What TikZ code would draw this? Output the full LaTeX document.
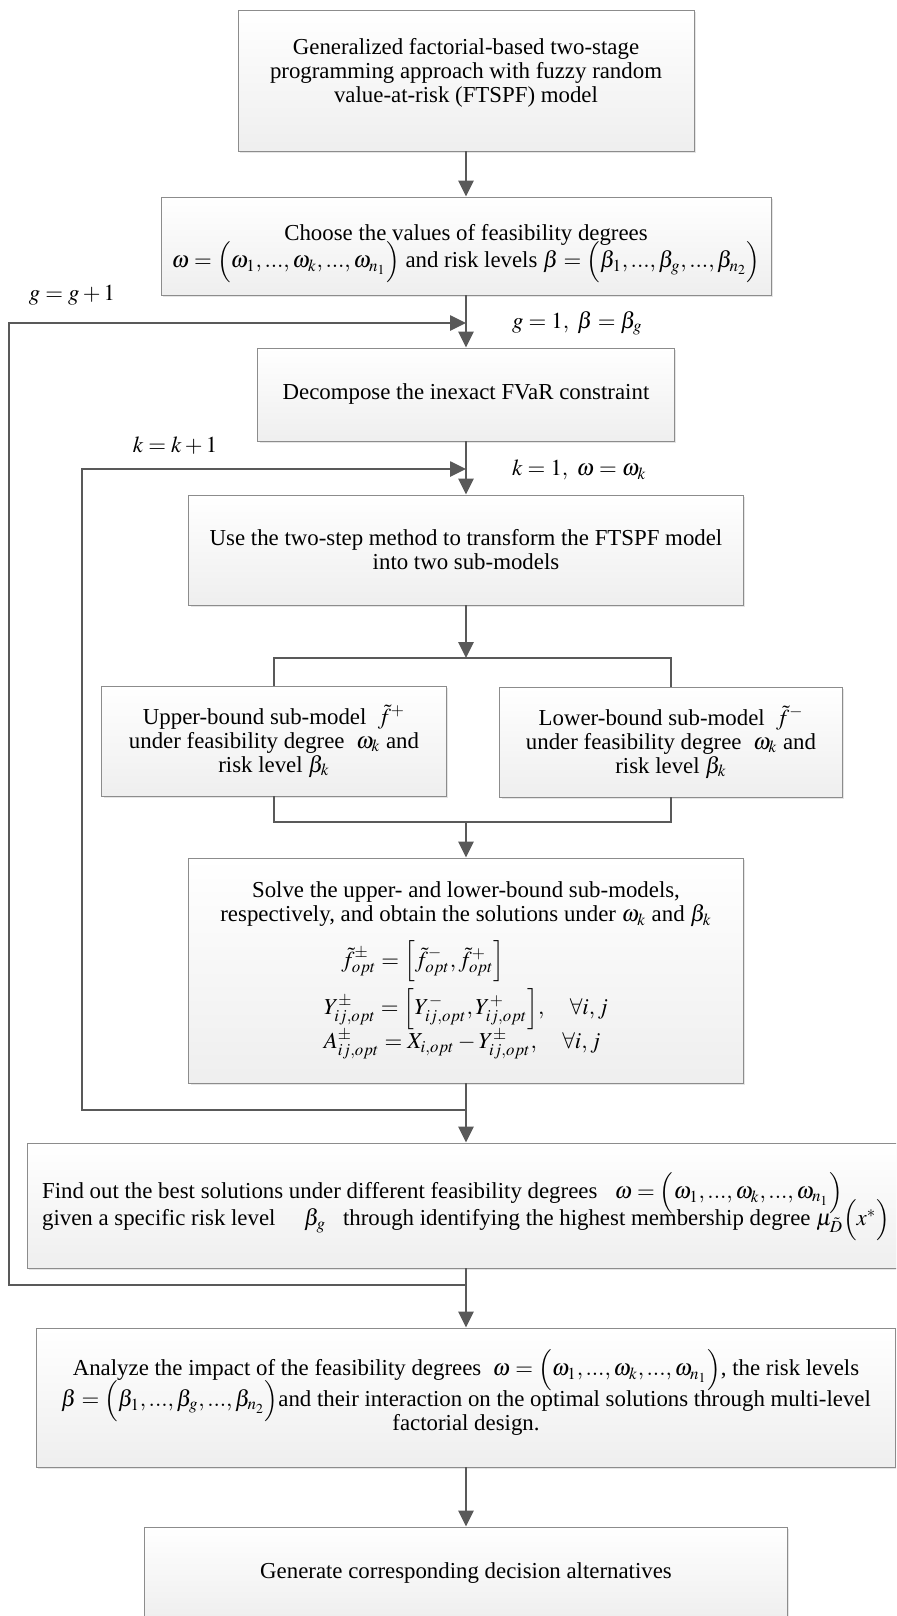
\documentclass[tikz,border=0pt]{standalone}
\usepackage{amsmath}
\usepackage{mathptmx}
\usepackage[no-math]{fontspec}
\setmainfont{Liberation Serif}
\usetikzlibrary{arrows.meta, shadows}

\definecolor{darkline}{HTML}{595959}
\definecolor{boxline}{HTML}{8C8C8C}

\begin{document}
\begin{tikzpicture}[
    x=0.02cm, y=-0.02cm,
    every node/.style={font=\fontsize{13}{13.6}\selectfont},
    box/.style={draw=boxline, line width=0.5pt, top color=white, bottom color=gray!13, align=center, inner sep=0pt,
        drop shadow={shadow xshift=0.04cm, shadow yshift=-0.04cm, fill=gray!40, opacity=0.5}},
    flow/.style={draw=darkline, line width=1.5pt, -{Triangle[length=0.32cm, width=0.3cm]}},
    link/.style={draw=darkline, line width=1.5pt},
    loop text/.style={inner sep=1pt}
]
\clip (0,0) rectangle (896,1616);

% Nodes
\node[box, minimum width=9.12cm, minimum height=2.82cm] (model) at (466,80.5) {Generalized factorial-based two-stage\\programming approach with fuzzy random\\value-at-risk (FTSPF) model\\[-2pt]\mbox{}};
\node[box, minimum width=12.2cm, minimum height=1.96cm] (choose) at (466,246) {Choose the values of feasibility degrees\\[2pt]\smash{$\omega=\Bigl(\omega_1,...,\omega_k,...,\omega_{n_1}\Bigr)$} and risk levels \smash{$\beta=\Bigl(\beta_1,...,\beta_g,...,\beta_{n_2}\Bigr)$}};
\node[box, minimum width=8.34cm, minimum height=1.86cm] (decompose) at (466,394.5) {Decompose the inexact FVaR constraint};
\node[box, minimum width=11.1cm, minimum height=2.2cm] (transform) at (466,550) {Use the two-step method to transform the FTSPF model\\into two sub-models};
\node[box, minimum width=6.9cm, minimum height=2.2cm] (upper) at (274,741) {Upper-bound sub-model \ $\tilde{f}^{+}$\\under feasibility degree \ $\omega_k$ and\\risk level $\beta_k$};
\node[box, minimum width=6.86cm, minimum height=2.2cm] (lower) at (671,742) {Lower-bound sub-model \ $\tilde{f}^{-}$\\under feasibility degree \ $\omega_k$ and\\risk level $\beta_k$};
\node[box, minimum width=11.1cm, minimum height=4.5cm] (solve) at (466,970.5) {Solve the upper- and lower-bound sub-models,\\respectively, and obtain the solutions under $\omega_k$ and $\beta_k$\\[7pt]
    $\begin{array}{l}
    \hspace{0.35cm}\tilde{f}^{\pm}_{\boldsymbol{opt}}=\Bigl[\tilde{f}^{-}_{\boldsymbol{opt}},\tilde{f}^{+}_{\boldsymbol{opt}}\Bigr]\\[8pt]
    Y^{\pm}_{ij,opt}=\Bigl[Y^{-}_{ij,opt},Y^{+}_{ij,opt}\Bigr],\quad\forall i,j\\
    A^{\pm}_{ij,opt}=X_{i,opt}-Y^{\pm}_{ij,opt},\quad\forall i,j
    \end{array}$};
\node[box, minimum width=17.56cm, minimum height=2.5cm, align=left] (best) at (466,1205.5) {\mbox{}\\[-2pt]Find out the best solutions under different feasibility degrees \ \ \smash{$\omega=\Bigl(\omega_1,...,\omega_k,...,\omega_{n_1}\Bigr)$}\\[2pt]given a specific risk level \quad $\beta_g$ \ \ through identifying the highest membership degree \smash{$\mu_{\tilde{D}}\Bigl(x^{*}\Bigr)$}};
\node[box, minimum width=17.2cm, minimum height=2.78cm] (analyze) at (466,1397.5) {\mbox{}\\[-4.5pt]Analyze the impact of the feasibility degrees \ \smash{$\omega=\Bigl(\omega_1,...,\omega_k,...,\omega_{n_1}\Bigr)$}, the risk levels\\[4pt]\smash{$\beta=\Bigl(\beta_1,...,\beta_g,...,\beta_{n_2}\Bigr)$}and their interaction on the optimal solutions through multi-level\\[0pt]factorial design.};
\node[box, minimum width=12.86cm, minimum height=1.86cm] (generate) at (466,1573.5) {Generate corresponding decision alternatives};

% Loop points
\coordinate (gjoin) at (466,323);
\coordinate (kjoin) at (466,469);
\coordinate (split) at (466,658);
\coordinate (merge) at (466,822);
\coordinate (kout) at (466,1110);
\coordinate (kleft) at (82,1110);
\coordinate (gout) at (466,1285);
\coordinate (gleft) at (9,1285);

% Loop labels
\node[loop text] (gnext) at (72,295) {$g=g+1$};
\node[loop text, anchor=west] (ginit) at (510,323) {$g=1,\ \beta=\beta_g$};
\node[loop text] (knext) at (175,446) {$k=k+1$};
\node[loop text, anchor=west] (kinit) at (510,470) {$k=1,\ \omega=\omega_k$};

% Edges
\draw[flow] (model) -- (choose);
\draw[flow] (choose) -- (decompose);
\draw[flow] (decompose) -- (transform);
\draw[flow] (transform) -- (split);
\draw[link] (upper.north) -- (upper.north |- split) -- (lower.north |- split) -- (lower.north);
\draw[link] (upper.south) -- (upper.south |- merge) -- (lower.south |- merge) -- (lower.south);
\draw[flow] (merge) -- (solve);
\draw[flow] (solve) -- (best);
\draw[flow] (kout) -- (kleft) |- (kjoin);
\draw[flow] (best) -- (analyze);
\draw[flow] (gout) -- (gleft) |- (gjoin);
\draw[flow] (analyze) -- (generate);

\end{tikzpicture}
\end{document}
